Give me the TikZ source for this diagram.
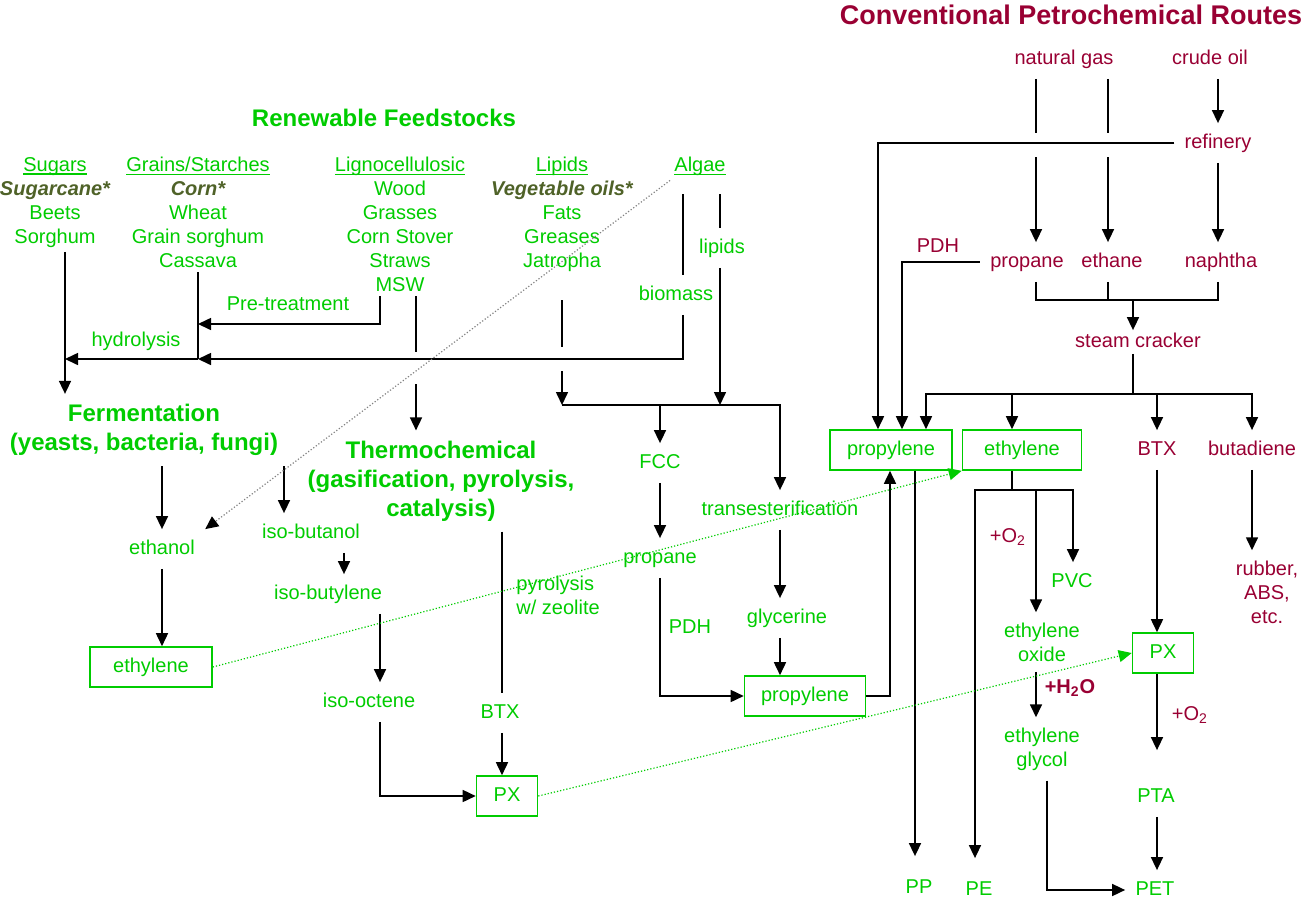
\documentclass[tikz,border=0pt]{standalone}
\usepackage{fontspec}
\setmainfont{Liberation Sans}
\usepackage{tikz}
\usetikzlibrary{arrows.meta}

\definecolor{leaf}{RGB}{0,204,0}
\definecolor{crudered}{RGB}{153,0,51}
\definecolor{cropolive}{RGB}{79,98,40}

\newcommand{\feedhead}[1]{\setbox0\hbox{#1}\rlap{\rule[-1.6pt]{\wd0}{0.75pt}}\box0}
\newcommand{\mainfeed}[1]{{\color{cropolive}\bfseries\itshape #1}}

\begin{document}
\begin{tikzpicture}[x=0.5pt,y=-0.5pt,
    font=\fontsize{10}{12}\selectfont,
    ln/.style={draw=black,line width=0.8pt},
    arr/.style={ln,-{Triangle[length=6.5pt,width=6pt]}},
    bio/.style={text=leaf,inner sep=5pt,text height=7.5pt,text depth=2pt},
    petro/.style={text=crudered,inner sep=5pt,text height=7.5pt,text depth=2pt},
    biolines/.style={text=leaf,inner sep=5pt,align=center},
    feed/.style={text=leaf,inner sep=2pt,align=center,anchor=north},
    route/.style={text=leaf,inner sep=5pt,align=center,font=\bfseries\fontsize{12}{14.5}\selectfont},
    prodbox/.style={draw=leaf,line width=0.8pt,text=leaf,inner sep=0pt,minimum height=20pt,text height=7.5pt,text depth=2pt},
    link/.style={densely dotted,line width=0.6pt}]

    \useasboundingbox (0,0) rectangle (1314,901);

    % Headings
    \node[font=\bfseries\fontsize{13.5}{16}\selectfont,text=crudered] (petrotitle) at (1071,15) {Conventional Petrochemical Routes};
    \node[font=\bfseries\fontsize{12}{14.5}\selectfont,text=leaf] (biotitle) at (384,118) {Renewable Feedstocks};

    % Feedstock columns
    \node[feed] (sugars) at (55,153) {\feedhead{Sugars}\\ \mainfeed{Sugarcane*}\\ Beets\\ Sorghum};
    \node[feed] (grains) at (198,153) {\feedhead{Grains/Starches}\\ \mainfeed{Corn*}\\ Wheat\\ Grain sorghum\\ Cassava};
    \node[feed] (ligno) at (400,153) {\feedhead{Lignocellulosic}\\ Wood\\ Grasses\\ Corn Stover\\ Straws\\ MSW};
    \node[feed] (oils) at (562,153) {\feedhead{Lipids}\\ \mainfeed{Vegetable oils*}\\ Fats\\ Greases\\ Jatropha};
    \node[feed] (algae) at (700,153) {\feedhead{Algae}};

    % Renewable labels
    \node[bio] (pretreat) at (288,305) {Pre-treatment};
    \node[bio] (hydro) at (136,341) {hydrolysis};
    \node[bio] (biomass) at (676,295) {biomass};
    \node[bio] (lipids) at (722,248) {lipids};
    \node[route] (ferm) at (144,430) {Fermentation\\(yeasts, bacteria, fungi)};
    \node[route] (thermo) at (441,481) {Thermochemical\\(gasification, pyrolysis,\\catalysis)};
    \node[bio] (ethanol) at (162,549) {ethanol};
    \node[bio] (isobutanol) at (311,533) {iso-butanol};
    \node[bio] (isobutylene) at (328,594) {iso-butylene};
    \node[bio] (isooctene) at (369,702) {iso-octene};
    \node[bio] (btxR) at (500,713) {BTX};
    \node[text=leaf,align=left,anchor=west,inner sep=0pt] (pyro) at (516,595) {pyrolysis\\w/ zeolite};
    \node[bio] (fcc) at (660,463) {FCC};
    \node[bio] (propB) at (660,558) {propane};
    \node[bio] (pdhR) at (690,628) {PDH};
    \node[bio] (trans) at (780,510) {transesterification};
    \node[bio] (glyc) at (787,618) {glycerine};

    % Renewable boxes
    \node[prodbox,minimum width=61pt] (ethyR) at (151,667) {ethylene};
    \node[prodbox,minimum width=30.5pt] (pxR) at (507,796) {PX};
    \node[prodbox,minimum width=60.5pt] (propyR) at (805,696) {propylene};

    % Conventional labels
    \node[petro] (natgas) at (1064,59) {natural gas};
    \node[petro] (crude) at (1210,59) {crude oil};
    \node[petro] (refinery) at (1218,143) {refinery};
    \node[petro] (propC) at (1027,262) {propane};
    \node[petro] (ethane) at (1112,262) {ethane};
    \node[petro] (naphtha) at (1221,262) {naphtha};
    \node[petro] (pdhC) at (938,247) {PDH};
    \node[petro,inner ysep=1pt] (steam) at (1138,342) {steam cracker};
    \node[petro] (btxC) at (1157,450) {BTX};
    \node[petro] (butad) at (1252,450) {butadiene};
    \node[text=crudered,inner sep=5pt,align=center] (rubber) at (1267,592) {rubber,\\ABS,\\etc.};
    \node[petro] (o2a) at (1008,537) {+O\textsubscript{2}};
    \node[petro] (h2o) at (1070,688) {\bfseries +H\textsubscript{2}O};
    \node[petro] (o2b) at (1190,715) {+O\textsubscript{2}};

    % Conventional boxes and products
    \node[prodbox,minimum width=61pt] (propyC) at (891,450) {propylene};
    \node[prodbox,minimum width=59.5pt] (ethyC) at (1022,450) {ethylene};
    \node[prodbox,minimum width=30.5pt] (pxC) at (1163,653) {PX};
    \node[bio] (pvc) at (1072,582) {PVC};
    \node[biolines] (eo) at (1042,642) {ethylene\\oxide};
    \node[biolines] (eg) at (1042,749) {ethylene\\glycol};
    \node[bio] (pta) at (1156,797) {PTA};
    \node[bio,inner ysep=11pt] (pp) at (919,888) {PP};
    \node[bio,inner ysep=11pt] (pe) at (979,890) {PE};
    \node[bio] (pet) at (1155,890) {PET};

    % Junctions
    \coordinate (sug) at (65,359);
    \coordinate (hyd) at (198,359);
    \coordinate (pre) at (380,324);
    \coordinate (lig1) at (416,352);
    \coordinate (lig2) at (416,384);
    \coordinate (jat1) at (562,347);
    \coordinate (jat2) at (562,371);
    \coordinate (mix) at (562,405);
    \coordinate (xBio) at (683,0);
    \coordinate (xLip) at (720,0);
    \coordinate (xBuoh) at (284,0);
    \coordinate (xBut) at (344,0);
    \coordinate (xOct) at (380,0);
    \coordinate (xTc) at (502,0);
    \coordinate (xUp) at (890,0);
    \coordinate (ngA1) at (1036,133);
    \coordinate (ngA2) at (1036,157);
    \coordinate (ngB1) at (1108,133);
    \coordinate (ngB2) at (1108,157);
    \coordinate (xRef) at (878,0);
    \coordinate (xPdh) at (902,0);
    \coordinate (xSc) at (926,0);
    \coordinate (xEth) at (1012,0);
    \coordinate (xPp) at (915,0);
    \coordinate (xPe) at (975,0);
    \coordinate (xEo) at (1036,0);
    \coordinate (xPvc) at (1073,0);
    \coordinate (xEg) at (1047,0);
    \coordinate (col) at (1133,300);
    \coordinate (spl) at (1133,394);
    \coordinate (esp) at (1012,490);

    % Feedstocks to routes
    \draw[arr] (sugars.south -| sug) -- (ferm.north -| sug);
    \draw[ln] (grains.south) -- (hyd);
    \draw[arr] (hyd) -- (sug);
    \draw[arr] (ligno.south -| pre) -- (pre) -- (pre -| hyd);
    \draw[ln] (ligno.south -| lig1) -- (lig1);
    \draw[arr] (lig2) -- (thermo.north -| lig2);
    \draw[ln,shorten <=7pt] (algae.south -| xBio) -- (biomass.north -| xBio);
    \draw[arr] (biomass.south -| xBio) |- (hyd);
    \draw[ln,shorten <=7pt] (algae.south -| xLip) -- (lipids.north -| xLip);
    \draw[arr] (lipids.south -| xLip) -- (mix -| xLip);
    \draw[ln,shorten <=12pt] (oils.south) -- (jat1);
    \draw[arr] (jat2) -- (mix);
    \draw[arr] (mix) -| (trans.north);
    \draw[arr] (mix -| fcc) -- (fcc.north);

    % Lipid routes
    \draw[arr] (fcc) -- (propB);
    \draw[arr] (propB) |- (propyR);
    \draw[arr] (trans.south) -- (glyc.north -| trans.south);
    \draw[arr] (glyc.south -| trans.south) -- (propyR.north -| trans.south);
    \draw[arr] (propyR.east) -| (propyC.south -| xUp);

    % Sugar and thermochemical routes
    \draw[arr] (ferm.south -| ethanol) -- (ethanol);
    \draw[arr] (ethanol) -- (ethyR.north -| ethanol);
    \draw[arr] (ferm.south -| xBuoh) -- (isobutanol.north -| xBuoh);
    \draw[arr] (isobutanol.south -| xBut) -- (isobutylene.north -| xBut);
    \draw[arr] (isobutylene.south -| xOct) -- (isooctene.north -| xOct);
    \draw[arr] (isooctene.south -| xOct) |- (pxR.west);
    \draw[ln] (thermo.south -| xTc) -- (btxR.north -| xTc);
    \draw[arr] (btxR.south -| xTc) -- (pxR.north -| xTc);

    % Conventional routes
    \draw[ln] (natgas.south -| ngA1) -- (ngA1);
    \draw[ln] (natgas.south -| ngB1) -- (ngB1);
    \draw[arr] (ngA2) -- (propC.north -| ngA2);
    \draw[arr] (ngB2) -- (ethane.north -| ngB2);
    \draw[arr] (crude.south -| refinery) -- (refinery);
    \draw[arr] (refinery) -- (naphtha.north -| refinery);
    \draw[arr] (refinery.west) -| (propyC.north -| xRef);
    \draw[arr] (propC.west) -| (propyC.north -| xPdh);
    \draw[ln] (propC.south -| ngA2) |- (col);
    \draw[ln] (ethane.south -| ngB2) -- (col -| ngB2);
    \draw[ln] (naphtha.south -| refinery) |- (col);
    \draw[arr] (col) -- (steam.north -| col);
    \draw[ln] (steam.south -| col) -- (spl);
    \draw[arr] (spl) -| (propyC.north -| xSc);
    \draw[arr] (spl) -| (ethyC.north -| xEth);
    \draw[arr] (spl) -| (btxC.north);
    \draw[arr] (spl) -| (butad.north);

    % Products
    \draw[arr] (propyC.south -| xPp) -- (pp.north -| xPp);
    \draw[ln] (ethyC.south -| xEth) -- (esp);
    \draw[arr] (esp) -| (pe.north -| xPe);
    \draw[arr] (esp) -| (eo.north -| xEo);
    \draw[arr] (esp) -| (pvc.north -| xPvc);
    \draw[arr] (eo.south -| xEo) -- (eg.north -| xEo);
    \draw[arr] (eg.south -| xEg) |- (pet.west);
    \draw[arr] (btxC) -- (pxC.north -| btxC);
    \draw[arr,shorten >=13.5pt] (pxC.south -| btxC) -- (pta.north -| btxC);
    \draw[arr] (pta.south -| btxC) -- (pet.north -| btxC);
    \draw[arr] (butad) -- (rubber.north -| butad);

    % Cross links
    \draw[link,draw=gray,-{Triangle[length=6.5pt,width=6pt,color=black]}] (algae.south west) -- (ethanol.north east);
    \draw[link,draw=leaf,-{Triangle[length=6.5pt,width=6pt]}] (ethyR.east) -- (ethyC.south west);
    \draw[link,draw=leaf,-{Triangle[length=6.5pt,width=6pt]}] (pxR.east) -- (pxC.west);
\end{tikzpicture}
\end{document}
